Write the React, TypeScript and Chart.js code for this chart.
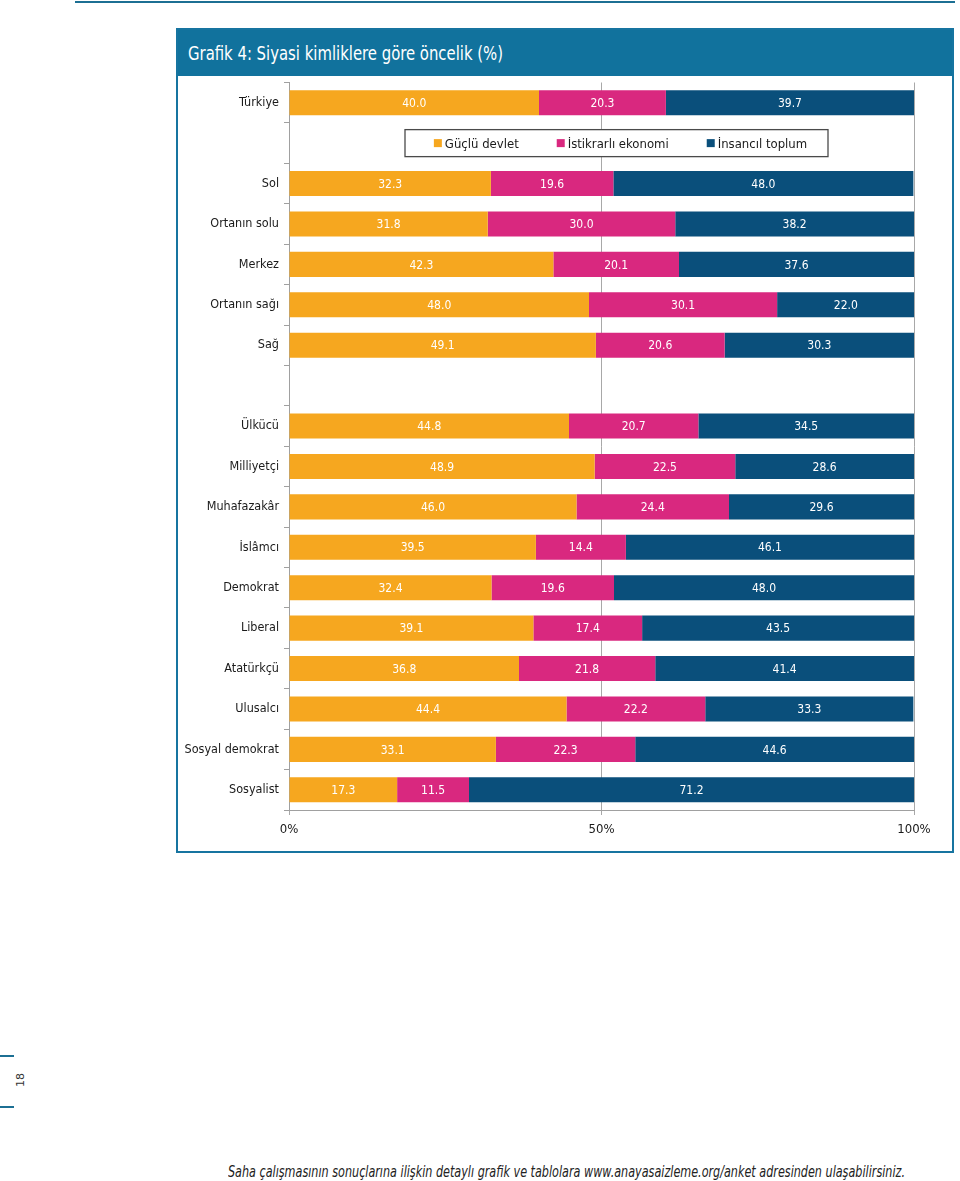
import React, { useEffect, useRef } from "react";
import { Chart, registerables } from "chart.js";

Chart.register(...registerables);

const categories = [
  "Türkiye", "", "Sol", "Ortanın solu", "Merkez", "Ortanın sağı", "Sağ", "",
  "Ülkücü", "Milliyetçi", "Muhafazakâr", "İslâmcı", "Demokrat", "Liberal",
  "Atatürkçü", "Ulusalcı", "Sosyal demokrat", "Sosyalist",
];

const seriesNames = ["Güçlü devlet", "İstikrarlı ekonomi", "İnsancıl toplum"];

const gucluDevlet = [40.0, null, 32.3, 31.8, 42.3, 48.0, 49.1, null, 44.8, 48.9, 46.0, 39.5, 32.4, 39.1, 36.8, 44.4, 33.1, 17.3];
const istikrarliEkonomi = [20.3, null, 19.6, 30.0, 20.1, 30.1, 20.6, null, 20.7, 22.5, 24.4, 14.4, 19.6, 17.4, 21.8, 22.2, 22.3, 11.5];
const insanciToplum = [39.7, null, 48.0, 38.2, 37.6, 22.0, 30.3, null, 34.5, 28.6, 29.6, 46.1, 48.0, 43.5, 41.4, 33.3, 44.6, 71.2];

const xTickValues = [0, 50, 100];

const colors = ["#F6A71F", "#D9287F", "#0A4F7B"];

const FONT = "'DejaVu Sans Condensed', 'DejaVu Sans', sans-serif";

const dataLabelPlugin = {
  id: "dataLabels",
  afterDatasetsDraw(chart: any) {
    const ctx = chart.ctx;
    ctx.save();
    ctx.font = `12px ${FONT}`;
    ctx.fillStyle = "#ffffff";
    ctx.textAlign = "center";
    ctx.textBaseline = "middle";
    chart.data.datasets.forEach((ds: any, di: number) => {
      const meta = chart.getDatasetMeta(di);
      meta.data.forEach((el: any, i: number) => {
        const v = ds.data[i];
        if (v === null || v === undefined) return;
        const p = el.getProps(["x", "base", "y"], true);
        ctx.fillText(v.toFixed(1), (p.x + p.base) / 2, p.y + 1);
      });
    });
    ctx.restore();
  },
};

const legendPlugin = {
  id: "innerLegend",
  afterDraw(chart: any) {
    const ctx = chart.ctx;
    const area = chart.chartArea;
    const yMid = chart.scales.y.getPixelForValue(1);
    const boxL = area.left + 116;
    const boxR = area.left + 539;
    const boxH = 27;
    ctx.save();
    ctx.fillStyle = "#ffffff";
    ctx.fillRect(boxL, yMid - boxH / 2, boxR - boxL, boxH);
    ctx.strokeStyle = "#4a4a4a";
    ctx.lineWidth = 1.3;
    ctx.strokeRect(boxL, yMid - boxH / 2, boxR - boxL, boxH);
    ctx.font = `13px ${FONT}`;
    ctx.textBaseline = "middle";
    ctx.textAlign = "left";
    const sq = 8;
    const gapIn = 3;
    const gapOut = 38;
    const widths = chart.data.datasets.map((d: any) => sq + gapIn + ctx.measureText(d.label).width);
    const total = widths.reduce((a: number, b: number) => a + b, 0) + gapOut * (widths.length - 1);
    let x = boxL + (boxR - boxL - total) / 2 + 4;
    chart.data.datasets.forEach((d: any, i: number) => {
      ctx.fillStyle = d.backgroundColor;
      ctx.fillRect(x, yMid - sq / 2, sq, sq);
      ctx.fillStyle = "#1a1a1a";
      ctx.fillText(d.label, x + sq + gapIn, yMid + 1);
      x += widths[i] + gapOut;
    });
    ctx.restore();
  },
};

function FitText(props: { text: string; width: number; style: any }) {
  const r = useRef<HTMLSpanElement>(null);
  useEffect(() => {
    const el = r.current;
    if (!el) return;
    el.style.transform = "none";
    const w = el.getBoundingClientRect().width;
    if (w > 0) el.style.transform = `scaleX(${props.width / w})`;
  }, [props.text, props.width]);
  return (
    <span
      ref={r}
      style={{ display: "inline-block", whiteSpace: "nowrap", transformOrigin: "0 50%", ...props.style }}
    >
      {props.text}
    </span>
  );
}

export default function App() {
  const ref = useRef<HTMLCanvasElement>(null);

  useEffect(() => {
    if (!ref.current) return;
    const chart = new Chart(ref.current, {
      type: "bar",
      data: {
        labels: categories,
        datasets: [gucluDevlet, istikrarliEkonomi, insanciToplum].map((d, i) => ({
          label: seriesNames[i],
          data: d,
          backgroundColor: colors[i],
          borderWidth: 0,
          barPercentage: 0.62,
          categoryPercentage: 1,
        })),
      },
      options: {
        indexAxis: "y",
        responsive: false,
        animation: false,
        layout: { padding: { top: 0, right: 38, left: 0, bottom: 0 } },
        plugins: {
          legend: { display: false },
          tooltip: { enabled: false },
        },
        scales: {
          x: {
            stacked: true,
            min: 0,
            max: 100,
            afterBuildTicks: (s: any) => {
              s.ticks = xTickValues.map((v) => ({ value: v }));
            },
            afterFit: (s: any) => {
              s.height = 41;
            },
            ticks: {
              callback: (v: any) => `${v}%`,
              font: { family: FONT, size: 13 },
              color: "#1a1a1a",
              padding: 7,
            },
            grid: { color: "#a8a8a8", tickLength: 5, lineWidth: 1 },
            border: { color: "#a0a0a0" },
          },
          y: {
            stacked: true,
            afterFit: (s: any) => {
              s.width = 111;
            },
            ticks: {
              font: { family: FONT, size: 12.5 },
              color: "#1a1a1a",
              padding: 5,
            },
            grid: { offset: true, drawOnChartArea: false, tickLength: 5, color: "#a0a0a0" },
            border: { color: "#a0a0a0" },
          },
        },
      },
      plugins: [dataLabelPlugin, legendPlugin],
    } as any);
    return () => chart.destroy();
  }, []);

  return (
    <div>
      <div style={{ position: "absolute", left: 75, top: 1, width: 880, height: 2, background: "#1c6f93" }} />
      <div
        style={{
          position: "absolute",
          left: 176,
          top: 28,
          width: 778,
          height: 825,
          border: "2px solid #1674a0",
          boxSizing: "border-box",
          background: "#ffffff",
        }}
      >
        <div
          style={{
            height: 46,
            background: "#11729d",
            color: "#ffffff",
            lineHeight: "46px",
            paddingLeft: 10,
            whiteSpace: "nowrap",
          }}
        >
          <FitText
            text="Grafik 4: Siyasi kimliklere göre öncelik (%)"
            width={315}
            style={{ fontFamily: FONT, fontSize: 19, lineHeight: "46px", color: "#ffffff" }}
          />
        </div>
      </div>
      <canvas
        ref={ref}
        width={774}
        height={781}
        style={{ position: "absolute", left: 178, top: 70, width: 774, height: 781 }}
      />
      <div style={{ position: "absolute", left: 0, top: 1055, width: 14, height: 2, background: "#1c6f93" }} />
      <div style={{ position: "absolute", left: 0, top: 1106, width: 14, height: 2, background: "#1c6f93" }} />
      <div
        style={{
          position: "absolute",
          left: 14,
          top: 1073,
          fontFamily: "'DejaVu Sans', sans-serif",
          fontSize: 11,
          color: "#333",
          transform: "rotate(-90deg)",
          lineHeight: "14px",
        }}
      >
        18
      </div>
      <div style={{ position: "absolute", left: 228, top: 1163 }}>
        <FitText
          text="Saha çalışmasının sonuçlarına ilişkin detaylı grafik ve tablolara www.anayasaizleme.org/anket adresinden ulaşabilirsiniz."
          width={677}
          style={{ fontFamily: FONT, fontStyle: "italic", fontSize: 15, lineHeight: "18px", color: "#222" }}
        />
      </div>
    </div>
  );
}
